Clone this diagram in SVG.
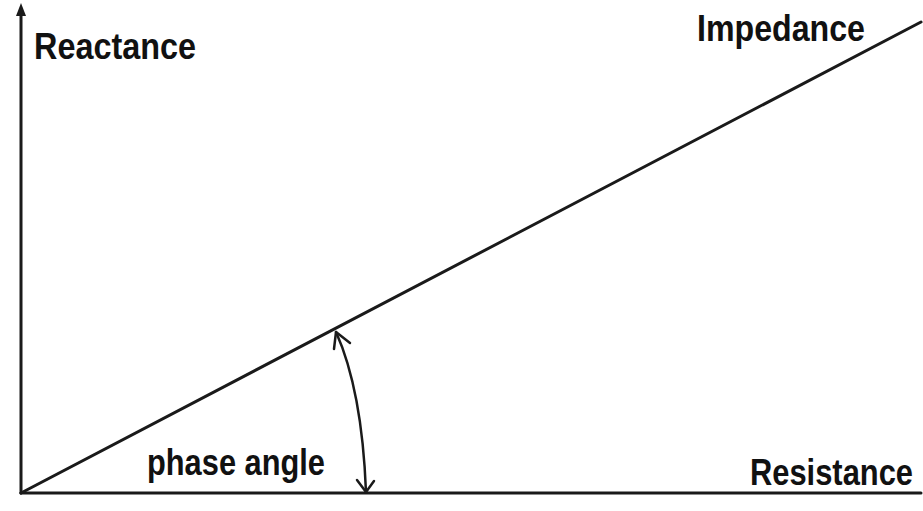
<svg xmlns="http://www.w3.org/2000/svg" width="923" height="511" viewBox="0 0 923 511">
<defs>
<style>
.lbl{font-family:"Liberation Sans Narrow","Liberation Sans",Arial,sans-serif;font-weight:bold;font-size:37px;fill:#111}
.ln{stroke:#1a1a1a;stroke-width:3;fill:none;stroke-linecap:round}
.ar{stroke:#1a1a1a;stroke-width:2.5;fill:none;stroke-linecap:round;stroke-linejoin:round}
</style>
</defs>
<rect width="923" height="511" fill="#fff"/>
<g id="connectors">
<line class="ln" x1="21" y1="493" x2="21" y2="10"/>
<path d="M16,16 L21,3 L26,16 Z" fill="#1a1a1a"/>
<line class="ln" x1="21" y1="493" x2="921" y2="493"/>
<line class="ln" x1="21" y1="493" x2="921" y2="22"/>
<path class="ar" d="M336,332 Q362,390 366,492"/>
<path class="ar" d="M334,349 L336,332 L350,343"/>
<path class="ar" d="M357,480 L366,492 L374,481"/>
</g>
<g id="reactance"><text class="lbl" x="34" y="59" textLength="162" lengthAdjust="spacingAndGlyphs">Reactance</text></g>
<g id="impedance"><text class="lbl" x="697" y="41" textLength="168" lengthAdjust="spacingAndGlyphs">Impedance</text></g>
<g id="resistance"><text class="lbl" x="750" y="485" textLength="163" lengthAdjust="spacingAndGlyphs">Resistance</text></g>
<g id="phase"><text class="lbl" x="147" y="475" textLength="178" lengthAdjust="spacingAndGlyphs">phase angle</text></g>
</svg>
